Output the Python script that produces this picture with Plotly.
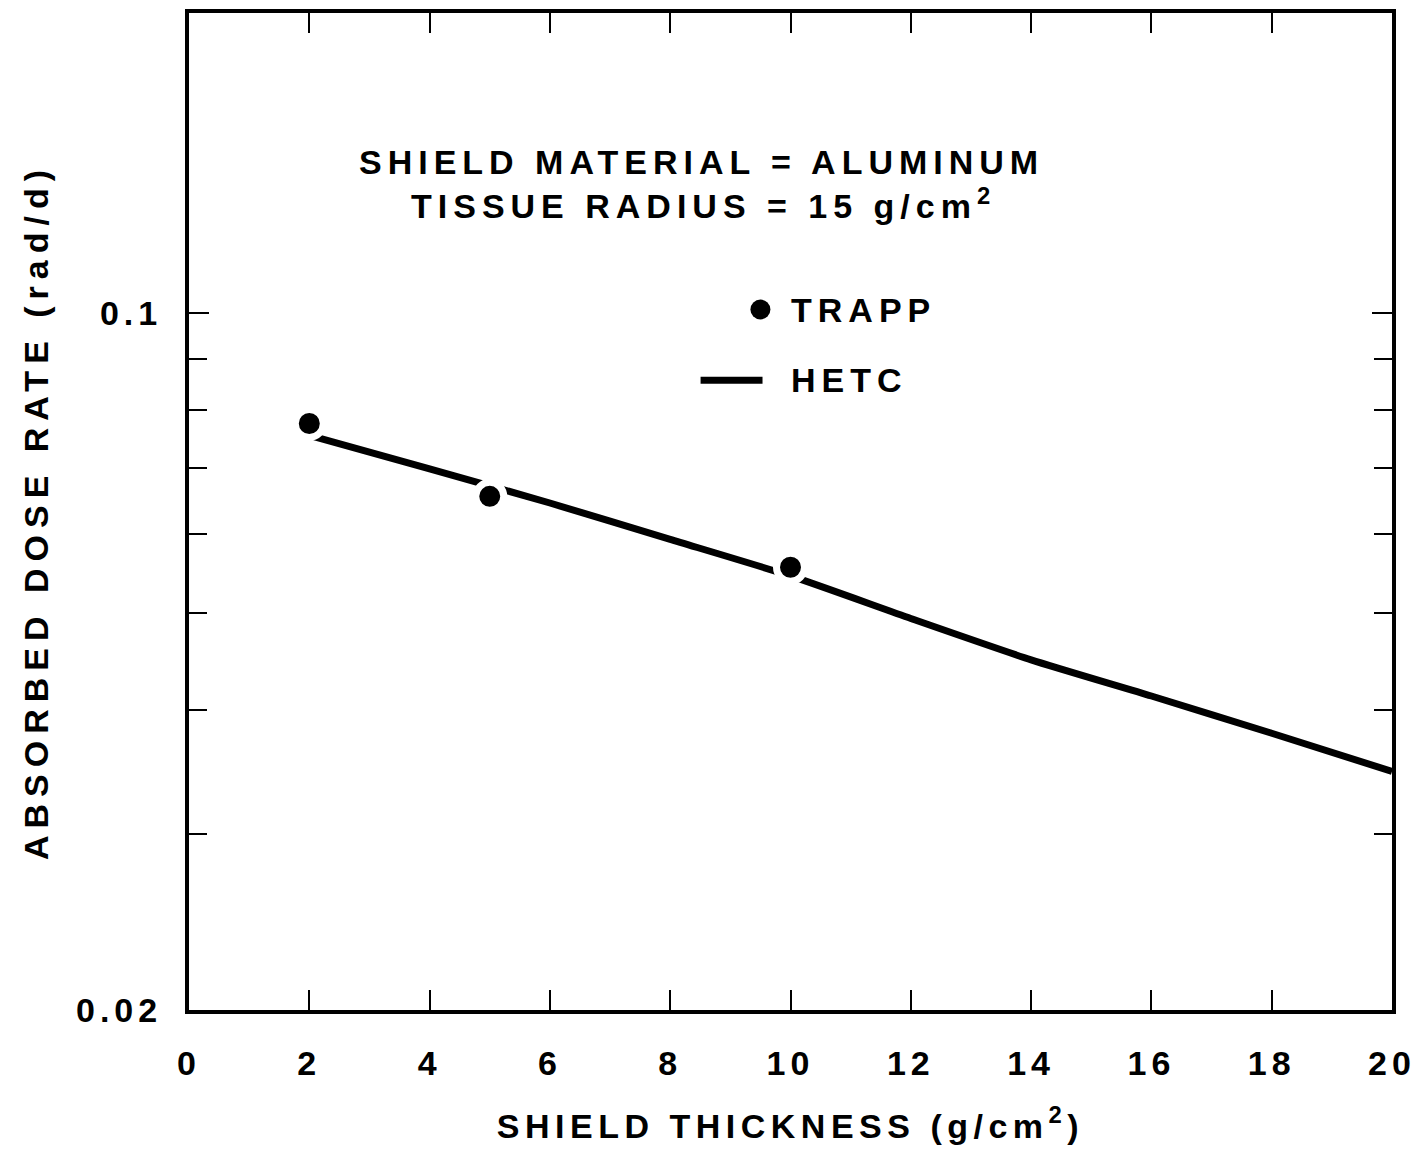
import plotly.graph_objects as go

# Data
trapp_x = [2, 5, 10]
trapp_y = [0.0775, 0.0655, 0.0556]

hetc_x = [2, 4, 6, 8, 10, 12, 14, 16, 18, 20]
hetc_y = [0.0754, 0.0698, 0.0645, 0.0593, 0.0545, 0.0494, 0.0449, 0.0413, 0.0379, 0.0347]

x_ticks = [0, 2, 4, 6, 8, 10, 12, 14, 16, 18, 20]
y_major = [0.02, 0.1]
y_major_text = ["0.02", "0.1"]
y_minor = [0.03, 0.04, 0.05, 0.06, 0.07, 0.08, 0.09]

FONT = "Liberation Sans"


def sp(text, px):
    return f'<span style="letter-spacing:{px}px">{text}</span>'


fig = go.Figure()
fig.add_trace(go.Scatter(x=hetc_x, y=hetc_y, mode="lines",
                         line=dict(color="black", width=7, shape="spline", smoothing=0.6),
                         name="HETC", showlegend=False))
fig.add_trace(go.Scatter(x=trapp_x, y=trapp_y, mode="markers",
                         marker=dict(color="black", size=28,
                                     line=dict(color="white", width=7)),
                         name="TRAPP", showlegend=False))

# page body has an 8px margin, so the figure is 16px smaller
fig.update_layout(
    width=1416, height=1144,
    margin=dict(l=181, r=32, t=1, b=142),
    plot_bgcolor="white", paper_bgcolor="white",
    font=dict(family=FONT, color="black"),
)

fig.update_xaxes(
    range=[0, 20], tickvals=x_ticks, ticktext=[sp(str(v), 5) for v in x_ticks],
    showgrid=False, zeroline=False,
    showline=True, linewidth=4, linecolor="black", mirror="ticks",
    ticks="inside", ticklen=20, tickwidth=2, tickcolor="black",
    tickfont=dict(family=FONT, size=34, color="black", weight="bold"),
    ticklabelstandoff=20,
    title=dict(text=sp("<b>SHIELD THICKNESS (g/cm<sup>2</sup>)</b>", 5.5),
               font=dict(family=FONT, size=34, color="black"), standoff=34),
)

fig.update_yaxes(
    type="log", range=[-1.69897, -0.69897],
    tickvals=y_major, ticktext=[sp(t, 5) for t in y_major_text],
    showgrid=False, zeroline=False,
    showline=True, linewidth=4, linecolor="black", mirror="ticks",
    ticks="inside", ticklen=20, tickwidth=2, tickcolor="black",
    tickfont=dict(family=FONT, size=34, color="black", weight="bold"),
    ticklabelstandoff=16,
    minor=dict(tickvals=y_minor, ticks="inside", ticklen=18, tickwidth=2,
               tickcolor="black", showgrid=False),
    title=dict(text=sp("<b>ABSORBED DOSE RATE (rad/d)</b>", 7),
               font=dict(family=FONT, size=34, color="black"), standoff=18),
)

ann_font = dict(family=FONT, size=34, color="black")
fig.add_annotation(xref="paper", yref="paper", x=0.426, y=0.851,
                   text=sp("<b>SHIELD MATERIAL = ALUMINUM</b>", 6), showarrow=False,
                   font=ann_font, xanchor="center", yanchor="middle")
fig.add_annotation(xref="paper", yref="paper", x=0.428, y=0.809,
                   text=sp("<b>TISSUE RADIUS = 15 g/cm<sup>2</sup></b>", 6), showarrow=False,
                   font=ann_font, xanchor="center", yanchor="middle")

# Legend (manual)
ly1, ly2 = 0.7026, 0.6317
fig.add_shape(type="circle", xref="paper", yref="paper",
              x0=0.475 - 10/1204, x1=0.475 + 10/1204,
              y0=ly1 - 10/1002, y1=ly1 + 10/1002,
              fillcolor="black", line=dict(color="black", width=0))
fig.add_annotation(xref="paper", yref="paper", x=(788-188)/1204, y=ly1,
                   text=sp("<b>TRAPP</b>", 6), showarrow=False, font=ann_font,
                   xanchor="left", yanchor="middle")
fig.add_shape(type="line", xref="paper", yref="paper",
              x0=(700-188)/1204, x1=(762-188)/1204, y0=ly2, y1=ly2,
              line=dict(color="black", width=7))
fig.add_annotation(xref="paper", yref="paper", x=(788-188)/1204, y=ly2,
                   text=sp("<b>HETC</b>", 6), showarrow=False, font=ann_font,
                   xanchor="left", yanchor="middle")

fig.write_html("out.html")
